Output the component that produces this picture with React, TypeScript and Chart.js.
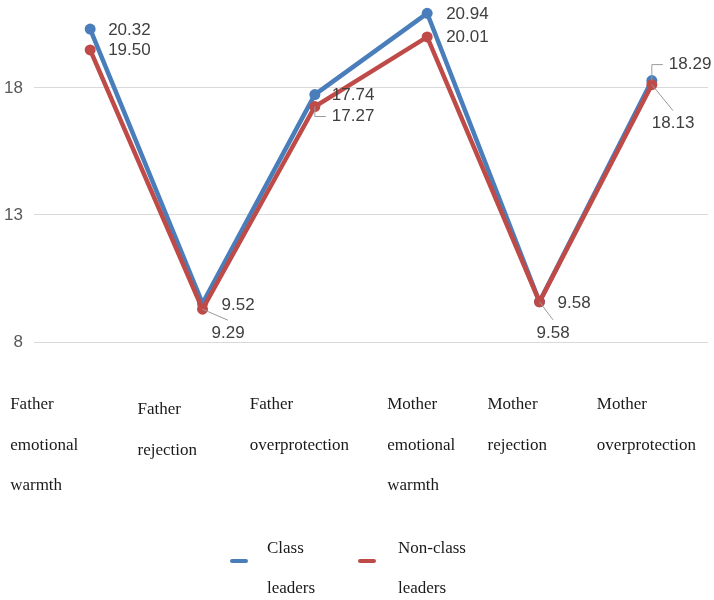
import React, { useEffect, useRef } from "react";
import { Chart, registerables } from "chart.js";

Chart.register(...registerables);

const categories: string[][] = [
  ["Father", "emotional", "warmth"],
  ["Father", "rejection"],
  ["Father", "overprotection"],
  ["Mother", "emotional", "warmth"],
  ["Mother", "rejection"],
  ["Mother", "overprotection"],
];
const classLeaders = [20.32, 9.52, 17.74, 20.94, 9.58, 18.29];
const nonClassLeaders = [19.5, 9.29, 17.27, 20.01, 9.58, 18.13];
const yTickValues = [8, 13, 18];
const seriesNames = [["Class", "leaders"], ["Non-class", "leaders"]];

const BLUE = "#4a7ebb";
const RED = "#be4b48";
const SANS = '"Liberation Sans", Arial, sans-serif';
const SERIF = '"Liberation Serif", "Times New Roman", serif';

// label placement: [dx, dy, leader]
type L = [number, number, string];
const labelLayout: L[][] = [
  [[18, 1, ""], [19, 2, ""], [17, 1, ""], [19, 1, ""], [18, 1, ""], [17, -16, "elbow"]],
  [[18, 0, ""], [9, 24, "diag"], [17, 10, "elbow"], [19, 0, ""], [-3, 31, "diag"], [0, 39, "diag"]],
];
const xLabelDx = [-80, -65, -65, -40, -52, -55];
const xLabelDy = [405, 410, 405, 405, 405, 405];

const customPlugin = {
  id: "customDraw",
  afterDatasetsDraw(chart: any) {
    const ctx = chart.ctx;
    ctx.save();
    ctx.font = `17px ${SANS}`;
    ctx.textBaseline = "middle";
    ctx.textAlign = "left";
    chart.data.datasets.forEach((ds: any, di: number) => {
      const meta = chart.getDatasetMeta(di);
      meta.data.forEach((pt: any, i: number) => {
        const [dx, dy, leader] = labelLayout[di][i];
        const text = Number(ds.data[i]).toFixed(2);
        const tx = pt.x + dx;
        const ty = pt.y + dy;
        const w = ctx.measureText(text).width;
        ctx.strokeStyle = "#9a9a9a";
        ctx.lineWidth = 1;
        if (leader === "elbow") {
          ctx.beginPath();
          ctx.moveTo(pt.x, pt.y);
          ctx.lineTo(pt.x, ty);
          ctx.lineTo(tx - 6, ty);
          ctx.stroke();
        } else if (leader === "diag") {
          ctx.beginPath();
          ctx.moveTo(pt.x, pt.y);
          ctx.lineTo(tx + w / 2, ty - 13);
          ctx.stroke();
        }
        ctx.fillStyle = "#404040";
        ctx.fillText(text, tx, ty);
      });
    });
    ctx.restore();
  },
  afterDraw(chart: any) {
    const ctx = chart.ctx;
    const xs = chart.scales.x;
    ctx.save();
    ctx.font = `17px ${SERIF}`;
    ctx.fillStyle = "#1a1a1a";
    ctx.textBaseline = "middle";
    ctx.textAlign = "left";
    categories.forEach((lines, i) => {
      const x = xs.getPixelForValue(i) + xLabelDx[i];
      lines.forEach((ln, j) => {
        ctx.fillText(ln, x, xLabelDy[i] + j * 40.5);
      });
    });
    // legend
    const colors = [BLUE, RED];
    const legendX = [232, 360];
    colors.forEach((c, k) => {
      ctx.strokeStyle = c;
      ctx.lineWidth = 4;
      ctx.lineCap = "round";
      ctx.beginPath();
      ctx.moveTo(legendX[k], 561);
      ctx.lineTo(legendX[k] + 14, 561);
      ctx.stroke();
      seriesNames[k].forEach((ln, j) => {
        ctx.fillText(ln, legendX[k] + 35 + (k === 1 ? 3 : 0), 549 + j * 40);
      });
    });
    ctx.restore();
  },
};

export default function App() {
  const ref = useRef<HTMLCanvasElement | null>(null);
  useEffect(() => {
    if (!ref.current) return;
    const chart = new Chart(ref.current, {
      type: "line",
      data: {
        labels: categories.map((c) => c.join(" ")),
        datasets: [
          {
            label: seriesNames[0].join(" "),
            data: classLeaders,
            borderColor: BLUE,
            backgroundColor: BLUE,
            borderWidth: 4.5,
            pointRadius: 5.5,
            pointBorderWidth: 0,
            tension: 0,
            clip: false,
            order: 1,
          },
          {
            label: seriesNames[1].join(" "),
            data: nonClassLeaders,
            borderColor: RED,
            backgroundColor: RED,
            borderWidth: 4.5,
            pointRadius: 5.5,
            pointBorderWidth: 0,
            tension: 0,
            clip: false,
            order: 0,
          },
        ],
      },
      options: {
        responsive: false,
        animation: false,
        devicePixelRatio: 1,
        layout: { padding: { top: 10, bottom: 258, right: 6, left: 0 } },
        plugins: { legend: { display: false }, tooltip: { enabled: false } },
        scales: {
          x: { display: false, offset: true },
          y: {
            min: 8,
            max: 21.07,
            afterBuildTicks: (s: any) => {
              s.ticks = yTickValues.map((v) => ({ value: v }));
            },
            afterFit: (s: any) => {
              s.width = 34;
              s.paddingTop = 0;
              s.paddingBottom = 0;
            },
            grid: { color: "#d9d9d9", drawTicks: false, lineWidth: 1 },
            border: { display: false },
            ticks: {
              padding: 11,
              color: "#595959",
              font: { family: SANS, size: 17 },
            },
          },
        },
      },
      plugins: [customPlugin],
    });
    return () => chart.destroy();
  }, []);
  return (
    <div style={{ position: "fixed", left: 0, top: 0, width: 714, height: 600, background: "#fff" }}>
      <canvas ref={ref} width={714} height={600} style={{ display: "block" }} />
    </div>
  );
}
